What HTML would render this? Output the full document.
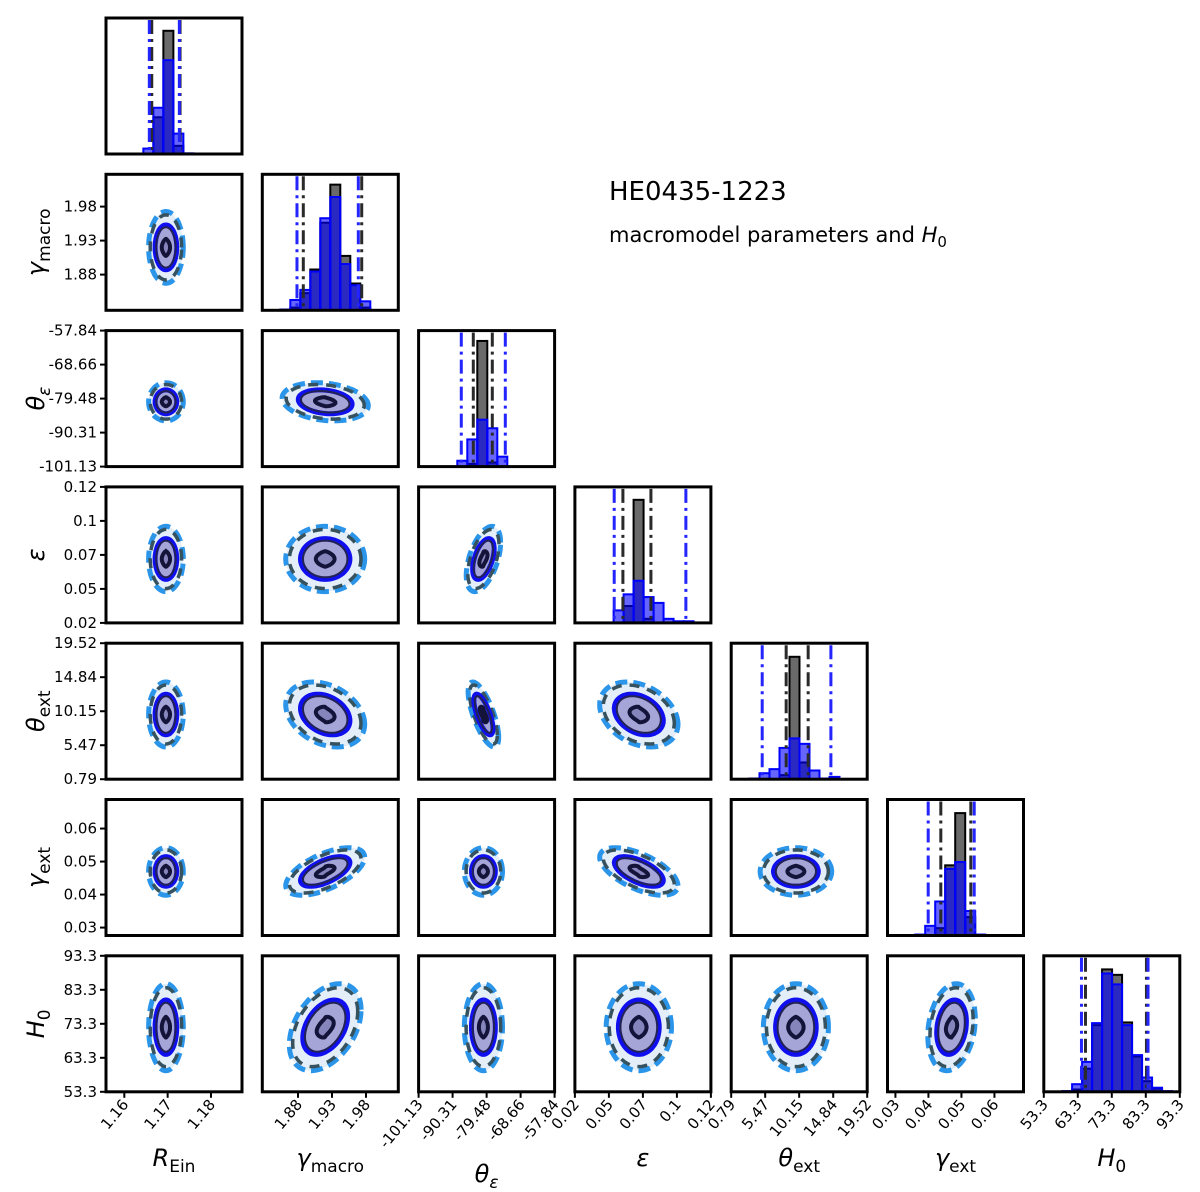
<!DOCTYPE html>
<html><head><meta charset="utf-8"><style>
html,body{margin:0;padding:0;background:#fff;}
svg{display:block;font-family:"DejaVu Sans","Liberation Sans",sans-serif;}
</style></head><body>
<svg id="fig" width="1200" height="1192" viewBox="0 0 1200 1192" xmlns="http://www.w3.org/2000/svg">
<text x="609" y="200" font-size="26">HE0435-1223</text>
<text x="609" y="242" font-size="21">macromodel parameters and <tspan font-style="italic">H</tspan><tspan font-size="15" dy="5">0</tspan></text>
</svg>
<script>
const paramNames = ['R_Ein','gamma_macro','theta_eps','eps','theta_ext','gamma_ext','H0'];
const axisLo = [1.15577, 1.8275, -101.13, 0.02, 0.79, 0.0276, 53.3];
const axisHi = [1.18716, 2.0275, -57.84, 0.12, 19.52, 0.0688, 93.3];
const tickVals = [[1.16,1.17,1.18],[1.88,1.93,1.98],[-101.13,-90.31,-79.48,-68.66,-57.84],[0.02,0.045,0.07,0.095,0.12],[0.79,5.47,10.15,14.84,19.52],[0.03,0.04,0.05,0.06],[53.3,63.3,73.3,83.3,93.3]];
const tickLabels = [['1.16','1.17','1.18'],['1.88','1.93','1.98'],['-101.13','-90.31','-79.48','-68.66','-57.84'],['0.02','0.05','0.07','0.1','0.12'],['0.79','5.47','10.15','14.84','19.52'],['0.03','0.04','0.05','0.06'],['53.3','63.3','73.3','83.3','93.3']];
const centers = [1.1696, 1.920, -80.5, 0.067, 9.7, 0.047, 72.3];
const spreads = [0.0025, 0.033, 3.8, 0.015, 2.8, 0.0045, 8];
// pair correlations, order (j,i) for j=1..6, i<j
const pairRho = [0, 0,-0.2, 0,0,0.5, 0,-0.3,-0.7,-0.3, 0,0.6,0,-0.6,0, 0,0.4,0,0,0,0.2];
const pairScaleX = [1, 1,1.2, 1,1.1,0.9, 1,1.1,0.8,1.2, 1,1.1,1,1.2,1.1, 1,1,1,1,1,1];
const histStart = [1.16439, 1.854, -88.81, 0.04845, 3.31, 0.03599, 58.68];
const histWidth = [0.00231, 0.0147, 3.183, 0.00735, 1.377, 0.00303, 2.94];
const grayCounts = [[0,0.27,0.906,0.06,0],[0.005,0.02,0.126,0.30,0.644,0.924,0.40,0.197,0.02],[0,0.02,0.924,0.03,0],[0,0.124,0.905,0.03,0,0,0,0],[0,0,0,0.03,0.90,0.123,0,0,0],[0,0,0.054,0.516,0.90,0.135,0],[0,0.017,0.17,0.49,0.90,0.86,0.51,0.26,0.078,0.024,0]];
const blueCounts = [[0.04,0.34,0.69,0.15,0.005],[0.005,0.076,0.15,0.285,0.677,0.833,0.34,0.184,0.066],[0.043,0.2,0.345,0.282,0.073],[0.092,0.21,0.31,0.19,0.147,0.03,0.012,0.012],[0.005,0.044,0.074,0.23,0.30,0.26,0.064,0.005,0.017],[0.007,0.071,0.25,0.49,0.54,0.18,0.007],[0.005,0.056,0.22,0.505,0.87,0.79,0.49,0.27,0.105,0.03,0.005]];
const blackLines = [[1.16633,1.17286],[1.8878,1.9737],[-83.72,-77.67],[0.0553,0.0759],[8.36,11.39],[0.04375,0.05284],[65.56,83.49]];
const blueLines = [[1.16577,1.1727],[1.8785,1.9687],[-87.54,-73.53],[0.0489,0.1016],[5.06,14.52],[0.03993,0.05387],[64.38,83.96]];

const NS='http://www.w3.org/2000/svg';
const svg=document.getElementById('fig');
const L0=106, T0=18, STEP=156.3, SIZE=136;
function colL(i){return L0+STEP*i;}
function rowT(j){return T0+STEP*j;}
function sx(i,v){return colL(i)+(v-axisLo[i])/(axisHi[i]-axisLo[i])*SIZE;}
function sy(j,v){return rowT(j)+SIZE-(v-axisLo[j])/(axisHi[j]-axisLo[j])*SIZE;}
function mk(tag,attrs,parent){const e=document.createElementNS(NS,tag);for(const k in attrs)e.setAttribute(k,attrs[k]);(parent||svg).appendChild(e);return e;}

const defs=mk('defs',{});
for(let j=0;j<7;j++){
  for(let i=0;i<=j;i++){
    const L=colL(i),T=rowT(j);
    const cp=mk('clipPath',{id:'c'+j+'_'+i},defs);
    mk('rect',{x:L,y:T,width:SIZE,height:SIZE},cp);
    const g=mk('g',{'clip-path':'url(#c'+j+'_'+i+')'});
    if(i===j){
      
      
      const B=T+SIZE;
      const drawBars=(arr,fill,stroke,name)=>{
        arr.forEach((h,k)=>{
          const x0=sx(i,histStart[i]+k*histWidth[i]), x1=sx(i,histStart[i]+(k+1)*histWidth[i]);
          if(h<=0) return;
          const r=mk('rect',{x:x0,y:B-h*SIZE,width:x1-x0,height:h*SIZE,fill:fill,stroke:stroke,'stroke-width':2},g);
          
          
        });
      };
      drawBars(grayCounts[i],'rgba(90,90,90,0.9)','#000','gray-bar');
      drawBars(blueCounts[i],'rgba(0,0,255,0.6)','#0000ff','blue-bar');
      blackLines[i].forEach(v=>{const l=mk('line',{x1:sx(i,v),x2:sx(i,v),y1:T+2,y2:B,stroke:'#2a2a2a','stroke-width':3,'stroke-dasharray':'14,5,3,5'},g);
        });
      blueLines[i].forEach(v=>{const l=mk('line',{x1:sx(i,v),x2:sx(i,v),y1:T+2,y2:B,stroke:'#2424ff','stroke-width':3,'stroke-dasharray':'14,5,3,5'},g);
        });
    } else {
      
      
      const idx=j*(j-1)/2+i;
      const rho=pairRho[idx], kx=pairScaleX[idx];
      const ell=(s,pinch)=>{let pts=[];for(let t=0;t<64;t++){const a=t/64*2*Math.PI;
        const c=Math.cos(a), sn=Math.sin(a);
        const cc=pinch?Math.sign(c)*Math.pow(Math.abs(c),1.6):c;
        const vx=centers[i]+s*kx*spreads[i]*cc;
        const vy=centers[j]+s*spreads[j]*(rho*c+Math.sqrt(1-rho*rho)*sn);
        pts.push(sx(i,vx).toFixed(1)+','+sy(j,vy).toFixed(1));}return pts.join(' ');};
      const add=(s,attrs,name,pinch)=>{const p=mk('polygon',Object.assign({points:ell(s,pinch)},attrs),g);};
      add(1.6,{fill:'#e4eef8',stroke:'#2b95ea','stroke-width':5,'stroke-dasharray':'12,6'},'outer-contour-dashed');
      add(1.45,{fill:'none',stroke:'#35525e','stroke-width':3.5,'stroke-dasharray':'10,8'},'outer-contour-dark');
      add(1.0,{fill:'#a5a5d8',stroke:'#1010ee','stroke-width':5},'inner-contour-blue');
      add(0.9,{fill:'none',stroke:'#222255','stroke-width':2},'inner-contour-dark');
      add(0.38,{fill:'#8585bc',stroke:'#14143a','stroke-width':4},'core-contour',true);
    }
    const fr=mk('rect',{x:L,y:T,width:SIZE,height:SIZE,fill:'none',stroke:'#000','stroke-width':3});
    
    
  }
}
for(let j=1;j<7;j++){
  tickVals[j].forEach((v,k)=>{
    const y=sy(j,v);
    mk('line',{x1:L0-6,x2:L0,y1:y,y2:y,stroke:'#000','stroke-width':2});
    const t=mk('text',{x:L0-9,y:y+5,'font-size':15,'text-anchor':'end'});
    t.textContent=tickLabels[j][k];
    
    
  });
}
const B6=rowT(6)+SIZE;
for(let i=0;i<7;i++){
  tickVals[i].forEach((v,k)=>{
    const x=sx(i,v);
    mk('line',{x1:x,x2:x,y1:B6,y2:B6+6,stroke:'#000','stroke-width':2});
    const t=mk('text',{x:x+5,y:B6+13,'font-size':15,'text-anchor':'end',transform:'rotate(-50 '+(x+5)+' '+(B6+13)+')'});
    t.textContent=tickLabels[i][k];
    
    
  });
}
const labelMain=['R','γ','θ','ε','θ','γ','H'];
const labelSub=['Ein','macro','ε','','ext','ext','0'];
const xLabelY=[1166,1166,1182,1166,1166,1166,1166];
for(let i=0;i<7;i++){
  const cx=colL(i)+SIZE/2;
  const t=mk('text',{x:cx,y:xLabelY[i],'font-size':24,'text-anchor':'middle'});
  
  
  t.innerHTML='<tspan font-style="italic">'+labelMain[i]+'</tspan>'+(labelSub[i]?'<tspan font-size="17" dy="6"'+(labelSub[i]==='ε'?' font-style="italic"':'')+'>'+labelSub[i]+'</tspan>':'');
  if(i>0){
    const cy=rowT(i)+SIZE/2;
    const y=mk('text',{x:0,y:0,'font-size':24,'text-anchor':'middle',transform:'translate(44 '+cy+') rotate(-90)'});
    
    
    y.innerHTML=t.innerHTML;
  }
}
</script>
</body></html>
